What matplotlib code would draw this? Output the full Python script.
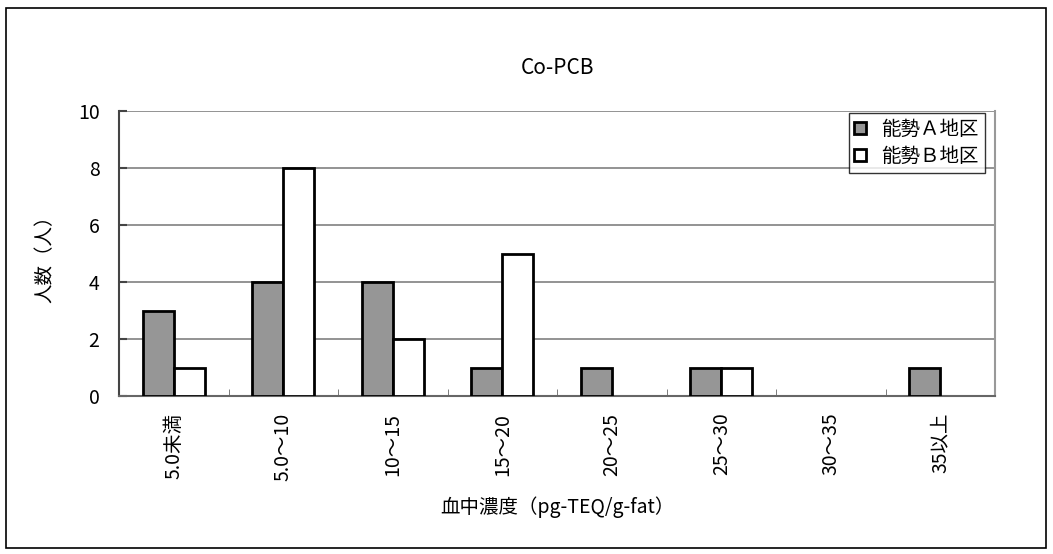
import matplotlib
matplotlib.use("Agg")
import matplotlib.pyplot as plt
import numpy as np
from matplotlib.patches import Rectangle

plt.rcParams['font.family'] = ['Noto Sans CJK JP', 'DejaVu Sans']

categories = ["5.0未満", "5.0～10", "10～15", "15～20", "20～25", "25～30", "30～35", "35以上"]
area_a = [3, 4, 4, 1, 1, 1, 0, 1]
area_b = [1, 8, 2, 5, 0, 1, 0, 0]
series_names = ["能勢Ａ地区", "能勢Ｂ地区"]

W, H = 1053, 554
fig = plt.figure(figsize=(W / 100, H / 100), dpi=100)
fig.patch.set_facecolor("white")
fig.patches.append(Rectangle((6 / W, 6 / H), 1040 / W, 540 / H, transform=fig.transFigure,
                             fill=False, edgecolor="black", linewidth=1.2))

left, right, top, bottom = 119, 995, 111, 396
ax = fig.add_axes([left / W, 1 - bottom / H, (right - left) / W, (bottom - top) / H])

n = len(categories)
x = np.arange(n)
bw = 0.285


def edge_widths(vals):
    # empty categories get no outline so no flat line is drawn on the axis
    return [2 if v > 0 else 0 for v in vals]


ax.bar(x - bw / 2, area_a, width=bw, color="#969696", edgecolor="black",
       linewidth=edge_widths(area_a), label=series_names[0], zorder=3)
ax.bar(x + bw / 2, area_b, width=bw, color="white", edgecolor="black",
       linewidth=edge_widths(area_b), label=series_names[1], zorder=3)

ax.set_xlim(-0.5, n - 0.5)
ax.set_ylim(0, 10)
ax.set_yticks(range(0, 11, 2))
ax.tick_params(axis="y", direction="in", length=6, width=1.5, color="#444444", labelsize=14, pad=14)
ax.set_xticks(x)
ax.set_xticklabels(categories, rotation=90, fontsize=14)
ax.tick_params(axis="x", length=0, pad=12)
ax.set_xticks(np.arange(n + 1) - 0.5, minor=True)
ax.tick_params(axis="x", which="minor", direction="in", length=5, color="#666666")

ax.yaxis.grid(True, color="#808080", linewidth=1.2, zorder=0)
ax.set_axisbelow(True)
ax.spines["top"].set_visible(False)
ax.spines["right"].set_color("#999999")
ax.spines["right"].set_linewidth(1.5)
ax.spines["left"].set_color("#444444")
ax.spines["left"].set_linewidth(1.5)
ax.spines["bottom"].set_color("#666666")
ax.spines["bottom"].set_linewidth(1.5)

fig.text((left + right) / 2 / W, 1 - 68 / H, "Co-PCB", fontsize=15, ha="center", va="center")
fig.text(45 / W, 1 - 254 / H, "人数（人）", fontsize=14, ha="center", va="center", rotation=90)
fig.text((left + right) / 2 / W, 1 - 507 / H, "血中濃度（pg-TEQ/g-fat）", fontsize=14,
         ha="center", va="center")

leg = ax.legend(loc="upper right", bbox_to_anchor=(985 / W, 1 - 113 / H), bbox_transform=fig.transFigure,
                fontsize=14, frameon=True, fancybox=False, edgecolor="black", borderpad=0.3,
                handlelength=0.6, handleheight=0.6, handletextpad=0.8, labelspacing=0.3,
                borderaxespad=0)
leg.get_frame().set_linewidth(1)

fig.savefig("out.png", dpi=100)
